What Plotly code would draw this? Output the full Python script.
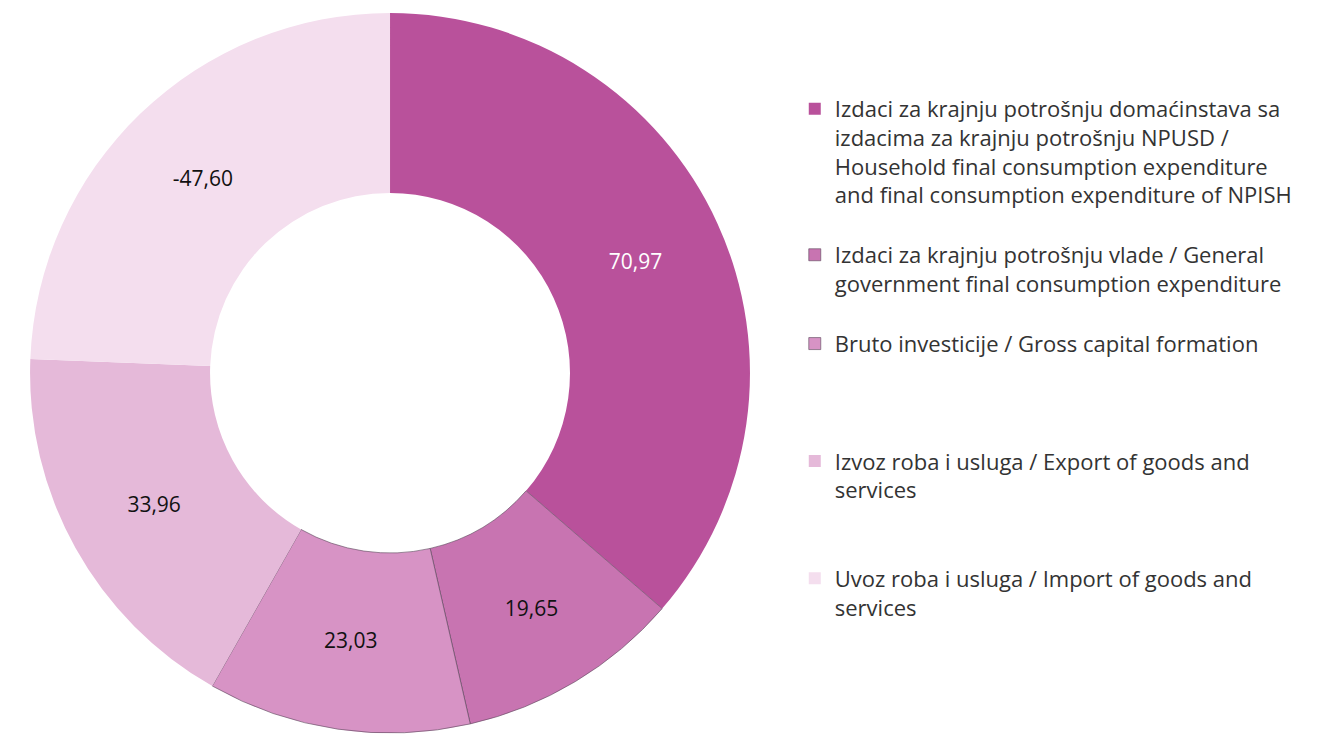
import plotly.graph_objects as go

# Structure of GDP, expenditure approach (%)
categories = [
    "Izdaci za krajnju potrošnju domaćinstava sa<br>izdacima za krajnju potrošnju NPUSD /<br>Household final consumption expenditure<br>and final consumption expenditure of NPISH<br> ",
    "Izdaci za krajnju potrošnju vlade / General<br>government final consumption expenditure<br> ",
    "Bruto investicije / Gross capital formation<br> <br> <br> ",
    "Izvoz roba i usluga / Export of goods and<br>services<br> <br> ",
    "Uvoz roba i usluga / Import of goods and<br>services",
]
shares = [70.97, 19.65, 23.03, 33.96, -47.60]

colors = ["#B9519B", "#C874B1", "#D793C5", "#E5B9D9", "#F4DEEE"]
label_colors = ["#FFFFFF", "#111111", "#111111", "#111111", "#111111"]

fig = go.Figure()

fig.add_trace(
    go.Pie(
        labels=categories,
        values=[abs(v) for v in shares],  # slice size from magnitude, label keeps sign
        customdata=shares,
        texttemplate="%{customdata:.2f}",
        textposition="inside",
        insidetextorientation="horizontal",
        textfont=dict(family="Open Sans, sans-serif", size=21, color=label_colors),
        hole=0.5,
        sort=False,
        direction="clockwise",
        rotation=0,
        marker=dict(
            colors=colors,
            line=dict(color="rgba(90,70,90,0.6)", width=[0, 1, 1, 0, 0]),
        ),
        domain=dict(x=[0.0166, 0.5583], y=[0.0163, 0.9932]),
        hoverinfo="label+value",
    )
)

fig.update_layout(
    width=1329,
    height=737,
    margin=dict(l=0, r=0, t=0, b=0),
    paper_bgcolor="white",
    plot_bgcolor="white",
    separators=",.",
    legend=dict(
        x=0.592,
        y=0.8915,
        xanchor="left",
        yanchor="top",
        valign="top",
        font=dict(family="Open Sans, sans-serif", size=22, color="#333333"),
        bgcolor="rgba(0,0,0,0)",
    ),
    showlegend=True,
)

fig.write_html("out.html")
